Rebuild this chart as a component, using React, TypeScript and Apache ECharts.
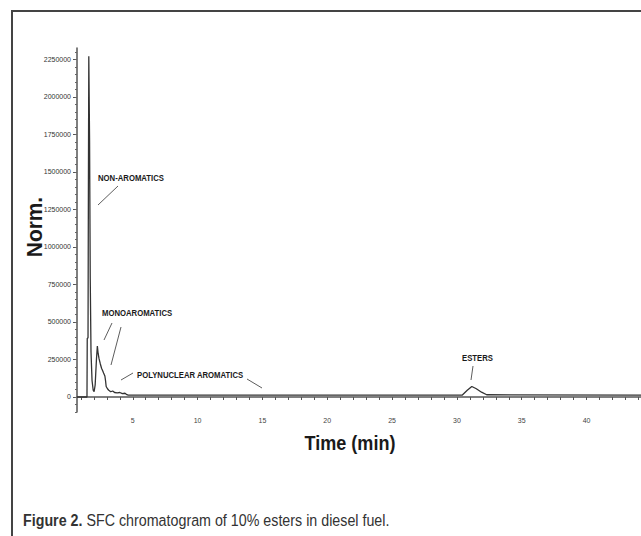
import React, { useEffect, useRef } from "react";
import * as echarts from "echarts";

// Chromatogram trace (time in min, detector response "Norm.")
const times = [
  0.7, 1.47, 1.49, 1.55, 1.58, 1.61, 1.63, 1.67, 1.72, 1.78, 1.86, 1.95, 2.02,
  2.1, 2.2, 2.27, 2.33, 2.4, 2.5, 2.6, 2.68, 2.75, 2.85, 2.9, 2.95, 3.05,
  3.15, 3.3, 3.45, 3.6, 3.8, 4.0, 4.2, 4.4, 4.55, 4.65, 30.4, 30.8, 31.15,
  31.5, 31.9, 32.3, 44.2,
];
const norms = [
  0, 0, 390000, 395000, 1400000, 2270000, 2270000, 1700000, 800000, 300000,
  110000, 45000, 35000, 80000, 250000, 340000, 290000, 255000, 220000, 190000,
  175000, 160000, 140000, 110000, 70000, 55000, 45000, 35000, 40000, 30000,
  28000, 30000, 22000, 25000, 15000, 12000, 12000, 45000, 70000, 55000, 32000,
  15000, 12000,
];

const xTickLabels = [5, 10, 15, 20, 25, 30, 35, 40];
const xMinorTicks = [
  1, 2, 3, 4, 5, 6, 7, 8, 9, 10, 11, 12, 13, 14, 15, 16, 17, 18, 19, 20, 21,
  22, 23, 24, 25, 26, 27, 28, 29, 30, 31, 32, 33, 34, 35, 36, 37, 38, 39, 40,
  41, 42, 43, 44,
];
const yTickLabels = [
  0, 250000, 500000, 750000, 1000000, 1250000, 1500000, 1750000, 2000000,
  2250000,
];
const yMinorTicks = [
  -100000, -50000, 0, 50000, 100000, 150000, 200000, 250000, 300000, 350000,
  400000, 450000, 500000, 550000, 600000, 650000, 700000, 750000, 800000,
  850000, 900000, 950000, 1000000, 1050000, 1100000, 1150000, 1200000,
  1250000, 1300000, 1350000, 1400000, 1450000, 1500000, 1550000, 1600000,
  1650000, 1700000, 1750000, 1800000, 1850000, 1900000, 1950000, 2000000,
  2050000, 2100000, 2150000, 2200000, 2250000, 2300000,
];

const annotations = [
  { text: "NON-AROMATICS", x: 98, y: 178 },
  { text: "MONOAROMATICS", x: 102, y: 313 },
  { text: "POLYNUCLEAR AROMATICS", x: 137, y: 375 },
  { text: "ESTERS", x: 462, y: 358 },
];
const leaders = [
  [118, 186, 98, 205],
  [112, 323, 104, 340],
  [121, 327, 111, 365],
  [133, 373, 121, 380],
  [247, 379, 262, 388],
  [473, 366, 471, 380],
];

const SANS = "Liberation Sans";

export default function App() {
  const ref = useRef<HTMLDivElement>(null);
  useEffect(() => {
    if (!ref.current) return;
    const chart = echarts.init(ref.current, null, { renderer: "svg" });
    const data = times.map((t, i) => [t, norms[i]]);
    const graphics: any[] = [
      {
        type: "polyline",
        shape: { points: [[12, 536], [12, 11], [641, 11]] },
        style: { stroke: "#444", lineWidth: 2, fill: null },
      },
      {
        type: "text",
        x: 35,
        y: 227,
        rotation: Math.PI / 2,
        scaleX: 0.95,
        style: {
          text: "Norm.",
          align: "center",
          verticalAlign: "middle",
          fontSize: 22,
          fontWeight: "bold",
          fontFamily: SANS,
          fill: "#1a1a1a",
        },
      },
      {
        type: "text",
        x: 350,
        y: 442,
        scaleX: 0.86,
        style: {
          text: "Time (min)",
          align: "center",
          verticalAlign: "middle",
          fontSize: 21,
          fontWeight: "bold",
          fontFamily: SANS,
          fill: "#1a1a1a",
        },
      },
      {
        type: "text",
        x: 23,
        y: 520,
        scaleX: 0.84,
        style: {
          text: "{b|Figure 2.} SFC chromatogram of 10% esters in diesel fuel.",
          verticalAlign: "middle",
          fontSize: 17,
          fontFamily: SANS,
          fill: "#333",
          rich: {
            b: { fontSize: 17, fontWeight: "bold", fontFamily: SANS, fill: "#333" },
          },
        },
      },
      ...annotations.map((a) => ({
        type: "text",
        x: a.x,
        y: a.y,
        scaleX: 0.86,
        style: {
          text: a.text,
          verticalAlign: "middle",
          fontSize: 9,
          fontWeight: "bold",
          fontFamily: SANS,
          fill: "#1a1a1a",
        },
      })),
      ...leaders.map((l) => ({
        type: "line",
        shape: { x1: l[0], y1: l[1], x2: l[2], y2: l[3] },
        style: { stroke: "#333", lineWidth: 0.8 },
      })),
    ];
    chart.setOption({
      animation: false,
      backgroundColor: "#fff",
      grid: { left: 77, top: 48, width: 564, height: 364, containLabel: false },
      xAxis: {
        type: "value",
        min: 0.7,
        max: 44.2,
        axisLine: { show: true, lineStyle: { color: "#555", width: 1.5 } },
        axisTick: {
          show: true,
          length: 3,
          customValues: xMinorTicks,
          lineStyle: { color: "#555" },
        },
        axisLabel: {
          customValues: xTickLabels,
          formatter: (v: number) => String(v),
          fontSize: 7,
          color: "#444",
          margin: 5,
          fontFamily: SANS,
        },
        splitLine: { show: false },
      },
      yAxis: [
        {
          type: "value",
          min: -100000,
          max: 2325000,
          axisLine: { show: true, lineStyle: { color: "#555", width: 1.5 } },
          axisTick: {
            show: true,
            length: 4,
            customValues: yTickLabels,
            lineStyle: { color: "#555" },
          },
          axisLabel: {
            customValues: yTickLabels,
            formatter: (v: number) => String(v),
            fontSize: 7,
            color: "#333",
            margin: 6,
            fontFamily: SANS,
          },
          splitLine: { show: false },
        },
        {
          type: "value",
          position: "left",
          min: -100000,
          max: 2325000,
          axisLine: { show: false },
          axisTick: {
            show: true,
            length: 2,
            customValues: yMinorTicks,
            lineStyle: { color: "#666" },
          },
          axisLabel: { show: false },
          splitLine: { show: false },
        },
      ],
      series: [
        {
          type: "line",
          data,
          showSymbol: false,
          symbol: "none",
          lineStyle: { color: "#333", width: 1.3 },
          xAxisIndex: 0,
          yAxisIndex: 0,
        },
      ],
      graphic: graphics,
    });
    return () => chart.dispose();
  }, []);
  return (
    <div
      ref={ref}
      style={{ position: "absolute", left: 0, top: 0, width: 641, height: 536, background: "#fff" }}
    />
  );
}
